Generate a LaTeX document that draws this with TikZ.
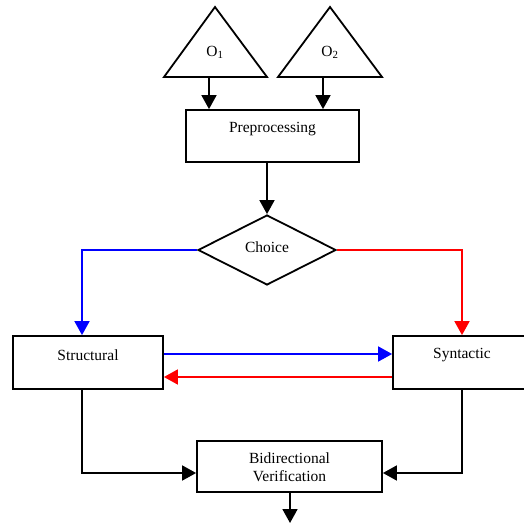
\documentclass[tikz,border=0pt]{standalone}
\usepackage{fontspec}
\setmainfont{Liberation Serif}
\usetikzlibrary{arrows.meta,shapes.geometric}
\begin{document}
\begin{tikzpicture}[x=1pt,y=-1pt,
  line/.style={line width=1.8pt},
  arr/.style={line width=1.8pt, -{Triangle[length=14pt,width=15pt]}},
  box/.style={draw, line width=1.8pt, rectangle, inner sep=0pt},
  lbl/.style={font=\fontsize{15.5}{18}\selectfont, align=center, inner sep=0pt}]
\useasboundingbox (0,0) rectangle (524,524);
\clip (0,0) rectangle (524,524);
% triangles
\draw[line, line join=miter] (164,77) -- (215,7) -- (267,77) -- cycle;
\draw[line, line join=miter] (278,77) -- (330,7) -- (382,77) -- cycle;
\node[lbl] (o1) at (215,52) {O\textsubscript{1}};
\node[lbl] (o2) at (330,52) {O\textsubscript{2}};
\coordinate (t1) at (209,77);
\coordinate (t2) at (323,77);
% boxes
\node[box, minimum width=173pt, minimum height=52pt] (pre) at (272.5,136) {};
\node[lbl] (pret) at (272.5,129) {Preprocessing};
\node[draw, line width=1.8pt, diamond, inner sep=0pt, minimum width=138pt, minimum height=70pt] (ch) at (267,250) {};
\node[lbl] (cht) at (267,247) {Choice};
\node[box, minimum width=150pt, minimum height=53pt] (st) at (88,362.5) {};
\node[lbl] (stt) at (88,355) {Structural};
\node[box, minimum width=138pt, minimum height=53pt] (sy) at (462,362.5) {};
\node[lbl] (syt) at (462,355) {Syntactic};
\node[box, minimum width=185pt, minimum height=51pt] (bv) at (289.5,466.5) {};
\node[lbl] (bvt) at (289.5,467) {Bidirectional\\Verification};
\coordinate (out) at (290,523);
% connectors
\draw[arr] (t1) -- (t1 |- pre.north);
\draw[arr] (t2) -- (t2 |- pre.north);
\draw[arr] (pre.south -| ch.north) -- (ch.north);
\draw[arr, blue] (ch.west) -| ([xshift=-6pt]st.north);
\draw[arr, red] (ch.east) -| (sy.north);
\draw[arr, blue] ([yshift=8.5pt]st.east) -- ([yshift=8.5pt]st.east -| sy.west);
\draw[arr, red] ([yshift=-14.5pt]sy.west) -- ([yshift=-14.5pt]sy.west -| st.east);
\draw[arr] ([xshift=-6pt]st.south) |- ([yshift=-6.5pt]bv.west);
\draw[arr] (sy.south) |- ([yshift=-6.5pt]bv.east);
\draw[arr] (bv.south -| out) -- (out);
\end{tikzpicture}
\end{document}
